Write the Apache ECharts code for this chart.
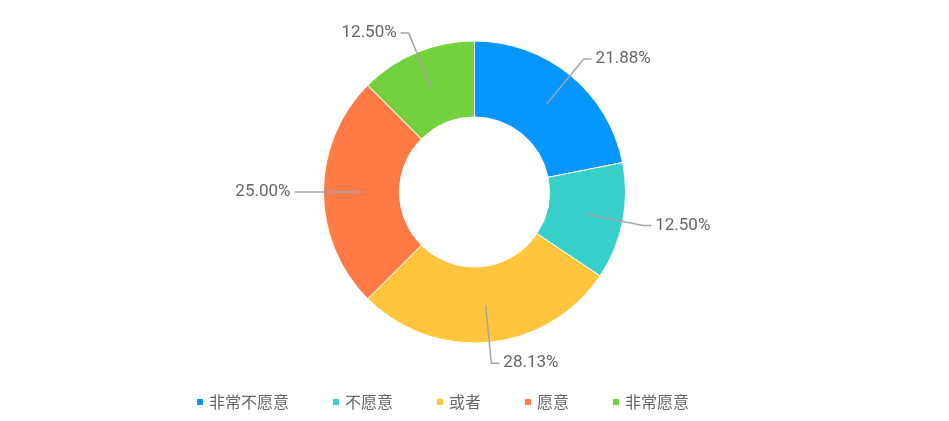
<!DOCTYPE html>
<html lang="zh">
<head>
    <meta charset="UTF-8">
    <title>意愿分布</title>
    <script type="text/javascript" src="https://cdn.jsdelivr.net/npm/echarts@6/dist/echarts.min.js"></script>
    <style>
        html, body { margin: 0; padding: 0; background: #fff; }
        #pieChart { width: 949px; height: 421px; }
    </style>
</head>
<body>
<div id="pieChart"></div>
<script>
    // 选项名称与人数
    var categories = ['非常不愿意', '不愿意', '或者', '愿意', '非常愿意'];
    var counts = [7, 4, 9, 8, 4];
    var colorList = ['#0795ff', '#36cfc9', '#ffc53d', '#ff7a45', '#73d13d'];

    var pieData = [];
    for (var i = 0; i < categories.length; i++) {
        pieData.push({ name: categories[i], value: counts[i] });
    }

    var myChart = echarts.init(document.getElementById('pieChart'));

    var option = {
        color: colorList,
        legend: {
            left: 190,
            top: 389,
            itemWidth: 8,
            itemHeight: 8,
            itemGap: 42,
            icon: 'rect',
            textStyle: {
                color: '#666',
                fontSize: 16,
                fontFamily: 'Noto Sans CJK SC'
            },
            data: categories
        },
        series: [
            {
                // 环形
                name: '意愿',
                type: 'pie',
                z: 2,
                center: ['50%', 192],
                radius: [75, 151],
                startAngle: 90,
                clockwise: true,
                silent: true,
                itemStyle: {
                    borderColor: '#fff',
                    borderWidth: 1
                },
                label: { show: false },
                labelLine: { show: false },
                data: pieData
            },
            {
                // 透明层，只用来画标签和引线（引线从环中间伸出）
                name: '标签',
                type: 'pie',
                z: 6,
                center: ['50%', 192],
                radius: [0, 114],
                startAngle: 90,
                clockwise: true,
                silent: true,
                legendHoverLink: false,
                itemStyle: { color: 'rgba(0,0,0,0)' },
                label: {
                    show: true,
                    formatter: function (p) {
                        return p.percent.toFixed(2) + '%';
                    },
                    color: '#666',
                    fontSize: 17,
                    fontFamily: 'Roboto',
                    distanceToLabelLine: 4
                },
                labelLine: {
                    show: true,
                    length: 58,
                    length2: 8,
                    lineStyle: { color: '#a5a5a5', width: 1.5 }
                },
                percentPrecision: 3,
                data: pieData
            }
        ]
    };

    myChart.setOption(option);
</script>
</body>
</html>
